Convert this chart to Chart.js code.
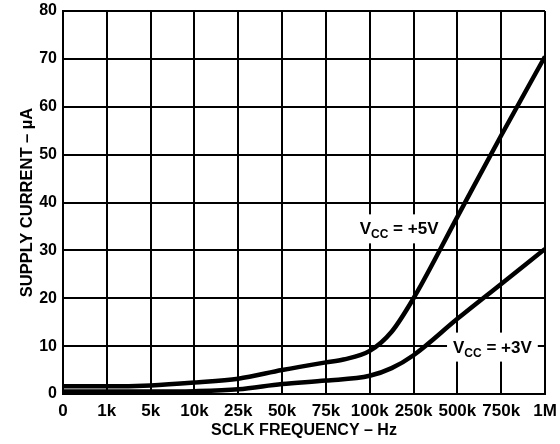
<!DOCTYPE html>
<html>
<head>
<meta charset="utf-8">
<script src="https://cdn.jsdelivr.net/npm/chart.js@4.4.1/dist/chart.umd.min.js"></script>
<style>
  html, body { margin: 0; padding: 0; background: #fff; }
  #wrap { width: 560px; height: 444px; }
</style>
</head>
<body>
<div id="wrap"><canvas id="supplyChart"></canvas></div>
<script>
const freqLabels = ['0', '1k', '5k', '10k', '25k', '50k', '75k', '100k', '250k', '500k', '750k', '1M'];

// position along the frequency axis (0 = "0", 11 = "1M")
const vcc5Pos = [0, 1, 2, 3, 4, 5, 6, 6.4, 7, 7.5, 8, 9, 10, 11];
const vcc5Values = [1.6, 1.6, 1.8, 2.4, 3.2, 5.0, 6.6, 7.2, 9.0, 13.0, 20.0, 37.0, 54.0, 70.5];
const vcc3Pos = [0, 1, 2, 3, 4, 5, 6, 7, 7.5, 8, 9, 10, 11];
const vcc3Values = [0.5, 0.5, 0.5, 0.6, 1.0, 2.1, 2.8, 3.8, 5.4, 8.1, 15.7, 23.0, 30.3];

const curveLabels = [
  { sub: 'CC', tail: ' = +5V', pos: 7.67, value: 34.6 },
  { sub: 'CC', tail: ' = +3V', pos: 9.8, value: 9.9 }
];

const FONT = '"Liberation Sans", Arial, Helvetica, sans-serif';

function toPoints(xs, ys) {
  return xs.map((x, i) => ({ x: x, y: ys[i] }));
}

function drawCurveLabels(chart, boxOnly) {
  const ctx = chart.ctx;
  const xScale = chart.scales.x;
  const yScale = chart.scales.y;
  curveLabels.forEach((l) => {
    const cx = xScale.getPixelForValue(l.pos);
    const cy = yScale.getPixelForValue(l.value);
    ctx.save();
    ctx.font = 'bold 17px ' + FONT;
    const wV = ctx.measureText('V').width;
    const wT = ctx.measureText(l.tail).width;
    ctx.font = 'bold 12px ' + FONT;
    const wS = ctx.measureText(l.sub).width;
    const w = wV + wS + wT;
    const left = cx - w / 2;
    if (boxOnly) {
      ctx.fillStyle = '#fff';
      ctx.fillRect(left - 6, cy - 14, w + 12, 29);
    } else {
      ctx.fillStyle = '#000';
      ctx.textBaseline = 'alphabetic';
      ctx.textAlign = 'left';
      const base = cy + 6;
      ctx.font = 'bold 17px ' + FONT;
      ctx.fillText('V', left, base);
      ctx.fillText(l.tail, left + wV + wS, base);
      ctx.font = 'bold 12px ' + FONT;
      ctx.fillText(l.sub, left + wV, base + 4);
    }
    ctx.restore();
  });
}

const curveLabelPlugin = {
  id: 'curveLabels',
  beforeDatasetsDraw(chart) { drawCurveLabels(chart, true); },
  afterDatasetsDraw(chart) { drawCurveLabels(chart, false); }
};

const ctx = document.getElementById('supplyChart');

new Chart(ctx, {
  type: 'line',
  data: {
    datasets: [{
      label: 'VCC = +5V',
      data: toPoints(vcc5Pos, vcc5Values),
      borderColor: '#000',
      borderWidth: 4.5,
      pointRadius: 0,
      cubicInterpolationMode: 'monotone',
      fill: false
    }, {
      label: 'VCC = +3V',
      data: toPoints(vcc3Pos, vcc3Values),
      borderColor: '#000',
      borderWidth: 4.5,
      pointRadius: 0,
      cubicInterpolationMode: 'monotone',
      fill: false
    }]
  },
  options: {
    responsive: true,
    maintainAspectRatio: false,
    animation: false,
    layout: { padding: { top: 11, right: 15, left: 0, bottom: 0 } },
    plugins: {
      legend: { display: false },
      tooltip: { enabled: false }
    },
    scales: {
      x: {
        type: 'linear',
        min: 0,
        max: 11,
        afterFit: (scale) => {
          scale.height = 50;
          scale.paddingLeft = 0;
          scale.paddingRight = 0;
        },
        ticks: {
          stepSize: 1,
          autoSkip: false,
          maxRotation: 0,
          color: '#000',
          padding: 7,
          font: { family: FONT, weight: 'bold', size: 17 },
          callback: (v) => freqLabels[v]
        },
        grid: { color: '#000', lineWidth: 2, drawTicks: false },
        border: { color: '#000', width: 2 },
        title: {
          display: true,
          text: 'SCLK FREQUENCY – Hz',
          color: '#000',
          font: { family: FONT, weight: 'bold', size: 16 },
          padding: { top: 0, bottom: 4 }
        }
      },
      y: {
        min: 0,
        max: 80,
        afterFit: (scale) => {
          scale.width = 63;
          scale.paddingTop = 0;
          scale.paddingBottom = 0;
        },
        ticks: {
          stepSize: 10,
          color: '#000',
          padding: 6,
          font: { family: FONT, weight: 'bold', size: 16 }
        },
        grid: { color: '#000', lineWidth: 2, drawTicks: false },
        border: { color: '#000', width: 2 },
        title: {
          display: true,
          text: 'SUPPLY CURRENT – µA',
          color: '#000',
          font: { family: FONT, weight: 'bold', size: 16.5 },
          padding: { top: 18, bottom: 0 }
        }
      }
    }
  },
  plugins: [curveLabelPlugin]
});
</script>
</body>
</html>
